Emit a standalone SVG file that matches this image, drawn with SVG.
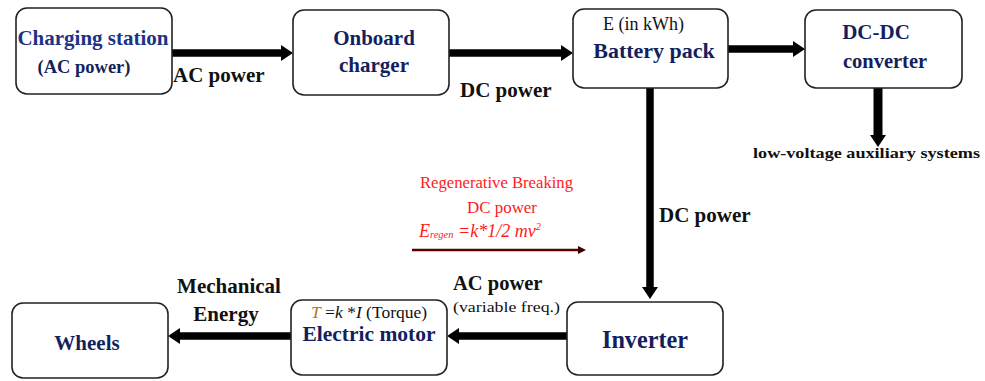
<svg xmlns="http://www.w3.org/2000/svg" width="985" height="381" viewBox="0 0 985 381">
<style>
.box{fill:#fff;stroke:#222;stroke-width:1.6}
.bar{stroke:#000;stroke-width:7.5;fill:none}
.f{font-family:'Liberation Serif','Times New Roman','DejaVu Serif',serif}
.t{font-family:'Liberation Serif','Times New Roman','DejaVu Serif',serif;font-weight:bold}
.blue{fill:#141f5e}
.blk{fill:#111}
.red{font-family:'Liberation Serif','Times New Roman','DejaVu Serif',serif;fill:#ff1a1a}
</style>
<defs>
<marker id="ah" viewBox="0 0 12 16" refX="0" refY="8" markerWidth="12" markerHeight="16" markerUnits="userSpaceOnUse" orient="auto">
<path d="M0,0 L12,8 L0,16 z" fill="#000"/>
</marker>
<marker id="ahs" viewBox="0 0 8 8" refX="0" refY="4" markerWidth="8" markerHeight="8" markerUnits="userSpaceOnUse" orient="auto">
<path d="M0,0 L8,4 L0,8 z" fill="#3a0000"/>
</marker>
</defs>
<rect width="985" height="381" fill="#fff"/>

<g id="connectors">
<line class="bar" x1="172" y1="53" x2="281" y2="53" marker-end="url(#ah)"/>
<line class="bar" x1="449" y1="53" x2="561" y2="53" marker-end="url(#ah)"/>
<line class="bar" x1="728" y1="49" x2="793" y2="49" marker-end="url(#ah)"/>
<line class="bar" x1="878" y1="88" x2="878" y2="135" marker-end="url(#ah)" style="stroke-width:9"/>
<line class="bar" x1="650" y1="88" x2="650" y2="287" marker-end="url(#ah)"/>
<line class="bar" x1="567" y1="336" x2="459" y2="336" marker-end="url(#ah)"/>
<line class="bar" x1="292" y1="336" x2="180" y2="336" marker-end="url(#ah)"/>
<line x1="412" y1="250" x2="578" y2="250" stroke="#5a0000" stroke-width="2.5" marker-end="url(#ahs)"/>
</g>

<g id="charging-station">
<rect class="box" x="16" y="8" width="156" height="86" rx="11"/>
<text class="t" x="93" y="45" font-size="21" text-anchor="middle" fill="#1c3384">Charging station</text>
<text class="t blue" x="84" y="73" font-size="18.5" text-anchor="middle">(AC power)</text>
</g>
<text class="t blk" x="173" y="82" font-size="21">AC power</text>

<g id="onboard-charger">
<rect class="box" x="293" y="10" width="156" height="85" rx="11"/>
<text class="t blue" x="374" y="45" font-size="21" text-anchor="middle">Onboard</text>
<text class="t blue" x="374" y="72" font-size="21" text-anchor="middle">charger</text>
</g>
<text class="t blk" x="460" y="97" font-size="21">DC power</text>

<g id="battery-pack">
<rect class="box" x="573" y="9" width="155" height="79" rx="11"/>
<text class="f" x="603" y="30" font-size="18" fill="#111">E (in kWh)</text>
<text class="t blue" x="654" y="58" font-size="22" text-anchor="middle">Battery pack</text>
</g>

<g id="dc-dc-converter">
<rect class="box" x="805" y="10" width="157" height="78" rx="11"/>
<text class="t blue" x="876" y="39" font-size="21" text-anchor="middle">DC-DC</text>
<text class="t blue" x="885" y="68" font-size="20.5" text-anchor="middle">converter</text>
</g>
<text class="t blk" x="753" y="158" font-size="15" textLength="227" lengthAdjust="spacingAndGlyphs">low-voltage auxiliary systems</text>

<text class="t blk" x="659" y="222" font-size="21">DC power</text>

<g id="regen-label">
<text class="red" x="420" y="188" font-size="16" textLength="153" lengthAdjust="spacingAndGlyphs">Regenerative Breaking</text>
<text class="red" x="467" y="213" font-size="16" textLength="70" lengthAdjust="spacingAndGlyphs">DC power</text>
<text class="red" x="419" y="237" font-size="18" font-style="italic">E<tspan font-size="10.5" dy="1">regen</tspan><tspan dy="-1"> =k*1/2 mv</tspan><tspan font-size="10.5" dy="-7">2</tspan></text>
</g>

<g id="inverter">
<rect class="box" x="567" y="302" width="156" height="73" rx="11"/>
<text class="t blue" x="645" y="348" font-size="26" text-anchor="middle" textLength="86" lengthAdjust="spacingAndGlyphs">Inverter</text>
</g>
<text class="t blk" x="453" y="290" font-size="20.5">AC power</text>
<text class="f" x="453" y="312" font-size="14" fill="#111" textLength="107" lengthAdjust="spacingAndGlyphs">(variable freq.)</text>

<g id="electric-motor">
<rect class="box" x="291" y="300" width="156" height="75" rx="11"/>
<text class="f" x="311" y="318" font-size="17.5" fill="#111"><tspan font-style="italic" fill="#b07a10">T</tspan> =<tspan font-style="italic">k</tspan> *<tspan font-style="italic">I</tspan> (Torque)</text>
<text class="t blue" x="369" y="341" font-size="21.5" text-anchor="middle">Electric motor</text>
</g>
<text class="t blk" x="229" y="293" font-size="21" text-anchor="middle">Mechanical</text>
<text class="t blk" x="226" y="321" font-size="21" text-anchor="middle">Energy</text>

<g id="wheels">
<rect class="box" x="12" y="303" width="156" height="75" rx="11"/>
<text class="t blue" x="87" y="350" font-size="21" text-anchor="middle">Wheels</text>
</g>
</svg>
